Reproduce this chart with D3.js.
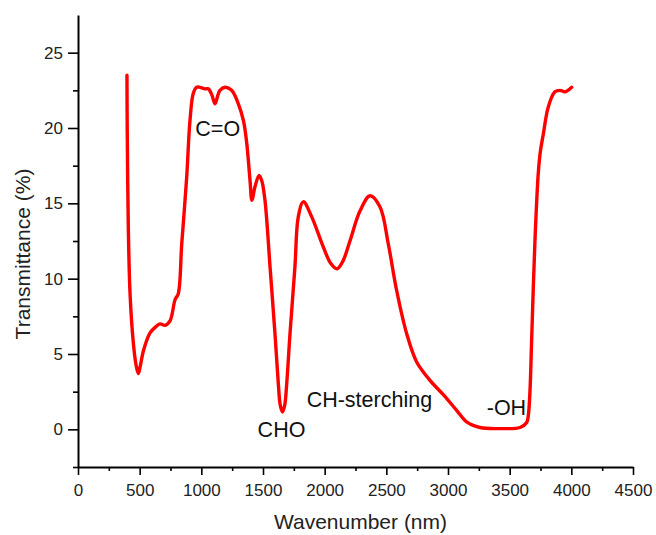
<!DOCTYPE html>
<html>
<head>
<meta charset="utf-8">
<script src="https://cdn.jsdelivr.net/npm/d3@7"></script>
<style>
  html, body { margin: 0; padding: 0; background: #fff; }
  svg { display: block; font-family: Arial, "Liberation Sans", sans-serif; }
</style>
</head>
<body>
<svg id="chart" width="656" height="535"></svg>
<script>
// FTIR spectrum: wavenumber vs transmittance
const wavenumber = [397, 399, 408, 422, 449, 470, 489, 505, 530, 584, 630, 665, 705, 746, 787, 813, 841, 881, 908, 935,
  962, 989, 1030, 1057, 1085, 1111, 1135, 1151, 1192, 1246, 1300, 1341, 1368, 1395, 1410, 1435, 1468, 1490, 1516, 1557,
  1597, 1624, 1640, 1658, 1676, 1692, 1719, 1759, 1786, 1827, 1895, 1989, 2050, 2100, 2150, 2205, 2287, 2368, 2449, 2516, 2584,
  2665, 2746, 2854, 2962, 3070, 3151, 3259, 3422, 3584, 3638, 3651, 3665, 3678, 3705, 3732, 3750, 3773, 3813, 3867, 3908, 3949, 4003];
const transmittance = [23.5, 20.1, 13.4, 9.0, 5.7, 4.3, 3.7, 4.2, 5.2, 6.4, 6.8, 7.0, 6.9, 7.2, 8.6, 9.0, 12.3, 16.7, 20.5, 22.3,
  22.7, 22.7, 22.6, 22.6, 22.2, 21.6, 22.2, 22.5, 22.7, 22.5, 21.6, 20.5, 19.0, 16.5, 15.2, 16.1, 16.85, 16.5, 15.2, 10.8,
  6.35, 3.05, 1.6, 1.15, 1.6, 3.0, 6.35, 10.8, 14.1, 15.1, 14.1, 12.1, 11.0, 10.65, 11.2, 12.5, 14.5, 15.5, 14.75, 12.3, 9.2,
  6.35, 4.47, 3.25, 2.3, 1.26, 0.49, 0.12, 0.05, 0.12, 0.45, 0.9, 2.6, 5.9, 12.5, 17.0, 18.5, 19.6, 21.4, 22.4, 22.5, 22.4, 22.7];

const xMajorTicks = [0, 500, 1000, 1500, 2000, 2500, 3000, 3500, 4000, 4500];
const xMinorTicks = [250, 750, 1250, 1750, 2250, 2750, 3250, 3750, 4250];
const yMajorTicks = [0, 5, 10, 15, 20, 25];
const yMinorTicks = [-2.5, 2.5, 7.5, 12.5, 17.5, 22.5];

// band annotations
const bandLabels = ["C=O", "CHO", "CH-sterching", "-OH"];
const bandX = [1133, 1650, 1854, 3314];
const bandY = [19.5, -0.5, 1.5, 0.95];
const bandAnchor = ["middle", "middle", "start", "start"];

const xTitle = "Wavenumber (nm)";
const yTitle = "Transmittance (%)";

const svg = d3.select("#chart");
const x = d3.scaleLinear().domain([0, 4500]).range([78, 633]);
const y = d3.scaleLinear().domain([-2.5, 27.5]).range([467, 15]);

const axisColor = "#000";

// x axis
const gx = svg.append("g").attr("transform", `translate(0,${y(-2.5)})`);
gx.call(d3.axisBottom(x).tickValues(xMajorTicks).tickSize(8).tickSizeOuter(0).tickPadding(9).tickFormat(d3.format("d")));
gx.append("g").call(d3.axisBottom(x).tickValues(xMinorTicks).tickSize(4).tickSizeOuter(0).tickFormat(""))
  .select(".domain").remove();

// y axis
const gy = svg.append("g").attr("transform", `translate(${x(0)},0)`);
gy.call(d3.axisLeft(y).tickValues(yMajorTicks).tickSize(10).tickSizeOuter(0).tickPadding(5).tickFormat(d3.format("d")));
gy.append("g").call(d3.axisLeft(y).tickValues(yMinorTicks).tickSize(5).tickSizeOuter(0).tickFormat(""))
  .select(".domain").remove();

svg.selectAll(".domain").attr("stroke", axisColor).attr("stroke-width", 2);
svg.selectAll(".tick line").attr("stroke", axisColor).attr("stroke-width", 1.6);
svg.selectAll(".tick text").attr("fill", "#222").style("font-size", "17px").style("font-family", "Arial, 'Liberation Sans', sans-serif");

// axis titles
svg.append("text")
  .attr("x", (x(0) + x(4500)) / 2 + 5)
  .attr("y", 529)
  .attr("text-anchor", "middle")
  .style("font-size", "21px")
  .attr("fill", "#222")
  .text(xTitle);

svg.append("text")
  .attr("transform", `translate(30,254) rotate(-90)`)
  .attr("text-anchor", "middle")
  .style("font-size", "21px")
  .attr("fill", "#222")
  .text(yTitle);

// spectrum line
const points = wavenumber.map((w, i) => [w, transmittance[i]]);
const line = d3.line()
  .x(d => x(d[0]))
  .y(d => y(d[1]))
  .curve(d3.curveCatmullRom.alpha(0.5));

svg.append("path")
  .datum(points)
  .attr("fill", "none")
  .attr("stroke", "#ff0000")
  .attr("stroke-width", 3.4)
  .attr("stroke-linejoin", "round")
  .attr("stroke-linecap", "round")
  .attr("d", line);

// band labels
svg.selectAll(".band")
  .data(bandLabels)
  .enter().append("text")
  .attr("class", "band")
  .attr("x", (d, i) => x(bandX[i]))
  .attr("y", (d, i) => y(bandY[i]))
  .attr("text-anchor", (d, i) => bandAnchor[i])
  .style("font-size", "21.5px")
  .attr("fill", "#111")
  .text(d => d);
</script>
</body>
</html>
